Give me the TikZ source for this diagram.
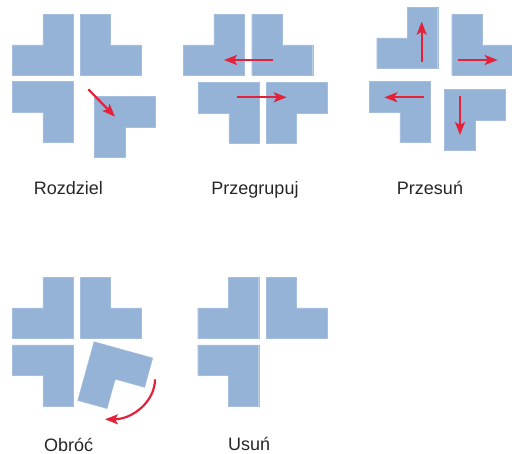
\documentclass[tikz,border=0pt]{standalone}
\usepackage{fontspec}
\setmainfont{Liberation Sans}
\usetikzlibrary{arrows.meta}
\definecolor{piece}{HTML}{95B3D7}
\definecolor{arr}{HTML}{E52039}
\tikzset{
  x=1pt, y=-1pt,
  shp/.style={fill=piece, draw=piece!85!white, line width=0.4pt},
  mv/.style={draw=arr, line width=2.2pt, -{Stealth[length=13pt,width=10pt,inset=3pt]}},
  lbl/.style={anchor=base, inner sep=0pt, font=\fontsize{18}{20}\selectfont, text=black!85},
  lTL/.pic={\path[shp] (30.5,0) -- (61,0) -- (61,61) -- (0,61) -- (0,30.5) -- (30.5,30.5) -- cycle;},
  lTR/.pic={\path[shp] (0,0) -- (30.5,0) -- (30.5,30.5) -- (61,30.5) -- (61,61) -- (0,61) -- cycle;},
  lBL/.pic={\path[shp] (0,0) -- (61,0) -- (61,61) -- (30.5,61) -- (30.5,30.5) -- (0,30.5) -- cycle;},
  lBR/.pic={\path[shp] (0,0) -- (61,0) -- (61,30.5) -- (30.5,30.5) -- (30.5,61) -- (0,61) -- cycle;}
}
\begin{document}
\begin{tikzpicture}
\useasboundingbox (0,0) rectangle (512,454);
% Panel 1: Rozdziel
\pic at (12.3,14.3) {lTL};
\pic at (80,14.3) {lTR};
\pic at (12.3,81.7) {lBL};
\pic at (94.3,96.7) {lBR};
\coordinate (a1s) at (88.3,89.3);
\coordinate (a1e) at (115,116.7);
\draw[mv] (a1s) -- (a1e);
\node[lbl] (t1) at (68.3,195) {Rozdziel};
% Panel 2: Przegrupuj
\pic at (183.3,14.3) {lTL};
\pic at (251.7,14.3) {lTR};
\pic at (198.3,82.3) {lBL};
\pic at (266,82.3) {lBR};
\coordinate (a2s) at (272.7,60);
\coordinate (a2e) at (224,60);
\coordinate (a3s) at (237.3,97.3);
\coordinate (a3e) at (286.7,97.3);
\draw[mv] (a2s) -- (a2e);
\draw[mv] (a3s) -- (a3e);
\node[lbl] (t2) at (255,195) {Przegrupuj};
% Panel 3: Przesuń
\pic at (376.7,7.3) {lTL};
\pic at (451.7,14.3) {lTR};
\pic at (369.3,81.7) {lBL};
\pic at (444.3,89.3) {lBR};
\coordinate (a4s) at (421.7,61.7);
\coordinate (a4e) at (421.7,21.7);
\coordinate (a5s) at (458.3,60);
\coordinate (a5e) at (497.7,60);
\coordinate (a6s) at (424,97.3);
\coordinate (a6e) at (384.3,97.3);
\coordinate (a7s) at (460,96);
\coordinate (a7e) at (460,135);
\draw[mv] (a4s) -- (a4e);
\draw[mv] (a5s) -- (a5e);
\draw[mv] (a6s) -- (a6e);
\draw[mv] (a7s) -- (a7e);
\node[lbl] (t3) at (430,195) {Przesuń};
% Panel 4: Obróć
\pic at (12.3,277.3) {lTL};
\pic at (80,277.3) {lTR};
\pic at (12.3,345) {lBL};
\path[shp] (94,341.7) -- (152.78,358.0) -- (144.63,387.39) -- (115.24,379.24) -- (107.09,408.63) -- (77.70,400.48) -- cycle;
\coordinate (a8s) at (155,379.3);
\draw[mv] (a8s) arc[start angle=0, end angle=90, x radius=50, y radius=40];
\node[lbl] (t4) at (68.7,451.5) {Obróć};
% Panel 5: Usuń
\pic at (197.7,277.3) {lTL};
\pic at (266,277.3) {lTR};
\pic at (197.7,345) {lBL};
\node[lbl] (t5) at (249.2,451) {Usuń};
\end{tikzpicture}
\end{document}
